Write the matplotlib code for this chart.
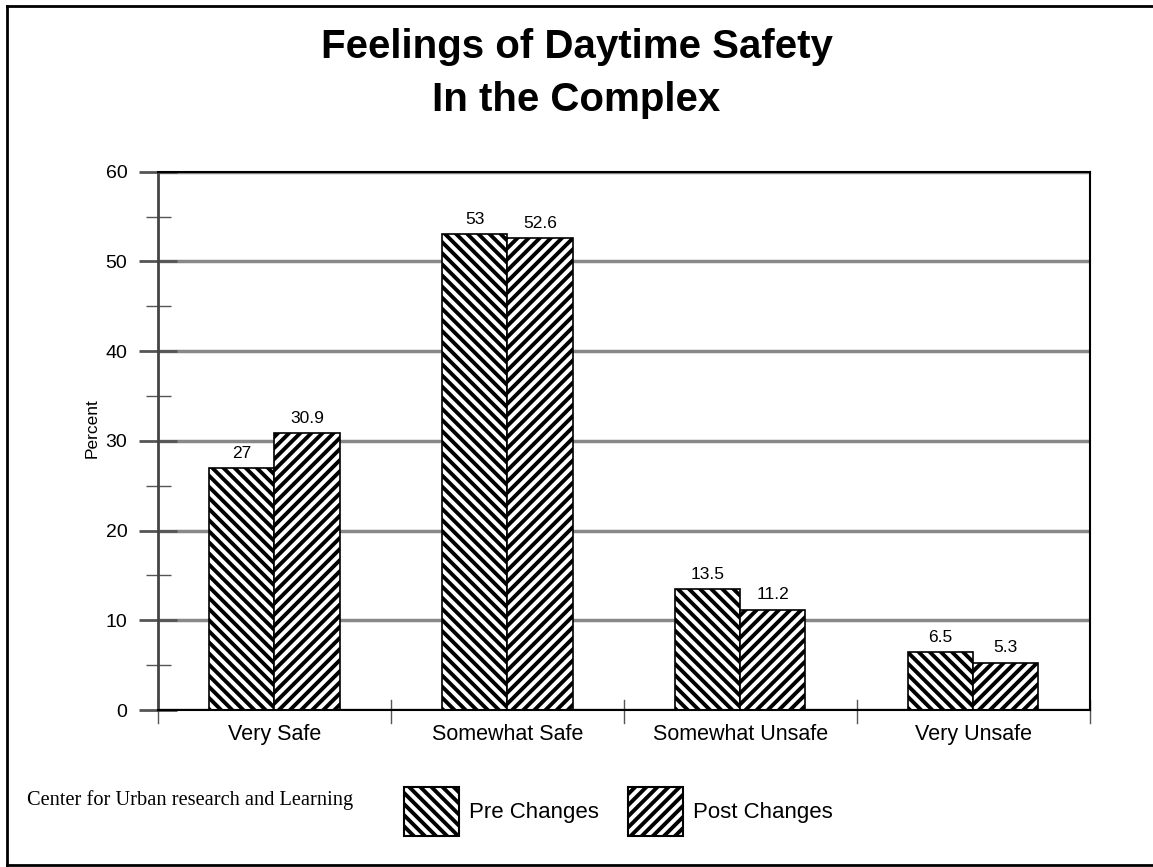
import numpy as np
import matplotlib.pyplot as plt
from matplotlib.lines import Line2D
from matplotlib.patches import Patch

categories = ["Very Safe", "Somewhat Safe", "Somewhat Unsafe", "Very Unsafe"]
pre_changes = [27, 53, 13.5, 6.5]
post_changes = [30.9, 52.6, 11.2, 5.3]
series_names = ["Pre Changes", "Post Changes"]

plt.rcParams["font.family"] = ["Liberation Sans", "DejaVu Sans"]
plt.rcParams["hatch.linewidth"] = 2.8
plt.rcParams["hatch.color"] = "black"

fig = plt.figure(figsize=(11.53, 8.67), dpi=100)
ax = fig.add_axes([0.137, 0.181, 0.808, 0.621])

x = np.arange(len(categories))
w = 0.28
b1 = ax.bar(x - w / 2, pre_changes, w, color="white", edgecolor="black",
            hatch="\\\\\\", linewidth=1.2)
b2 = ax.bar(x + w / 2, post_changes, w, color="white", edgecolor="black",
            hatch="///", linewidth=1.2)
for bars, vals in [(b1, pre_changes), (b2, post_changes)]:
    for r, v in zip(bars, vals):
        ax.text(r.get_x() + r.get_width() / 2, v + 0.8, f"{v:g}",
                ha="center", va="bottom", fontsize=12.5)

ax.set_xlim(-0.5, len(categories) - 0.5)
ax.set_ylim(0, 60)
ax.set_yticks(range(0, 61, 10))
ax.set_yticks(range(5, 60, 10), minor=True)
ax.tick_params(axis="y", which="major", direction="inout", length=28, width=2,
               color="#555555", labelsize=14, pad=8)
ax.tick_params(axis="y", which="minor", direction="inout", length=18, width=1,
               color="#555555")
ax.set_xticks(x)
ax.set_xticklabels(categories, fontsize=15.5)
ax.tick_params(axis="x", length=0, pad=10)
for b in np.arange(-0.5, len(categories), 1.0):
    ax.plot([b, b], [-0.024, 0.019], transform=ax.get_xaxis_transform(),
            color="#555555", lw=1, clip_on=False)
ax.yaxis.grid(True, color="#888888", lw=2.5)
ax.set_axisbelow(True)
for s in ax.spines.values():
    s.set_color("black")
    s.set_linewidth(1.5)
ax.spines["left"].set_color("#444444")
ax.spines["left"].set_linewidth(2)
ax.set_ylabel("Percent", fontsize=12.5, labelpad=2)
ax.yaxis.set_label_coords(-0.063, 0.524)

fig.text(0.5, 0.915, "Feelings of Daytime Safety\nIn the Complex", ha="center",
         va="center", fontsize=29, fontweight="bold", linespacing=1.5)
fig.text(0.023, 0.077, "Center for Urban research and Learning", fontsize=14.7,
         family="Liberation Serif", va="center")

handles = [Patch(facecolor="white", edgecolor="black", hatch="\\\\\\", lw=1.5),
           Patch(facecolor="white", edgecolor="black", hatch="///", lw=1.5)]
fig.legend(handles, series_names, loc="center left", bbox_to_anchor=(0.333, 0.064),
           ncol=2, frameon=False, fontsize=16, handlelength=2.48, handleheight=3.05,
           columnspacing=1.3, handletextpad=0.45)

# page border (left, top, bottom)
for xs, ys in [([0.006, 0.006], [0.002, 0.993]), ([0.006, 1.0], [0.993, 0.993]),
               ([0.006, 1.0], [0.002, 0.002])]:
    fig.add_artist(Line2D(xs, ys, transform=fig.transFigure, color="black", lw=2))

fig.savefig("out.png", dpi=100)
